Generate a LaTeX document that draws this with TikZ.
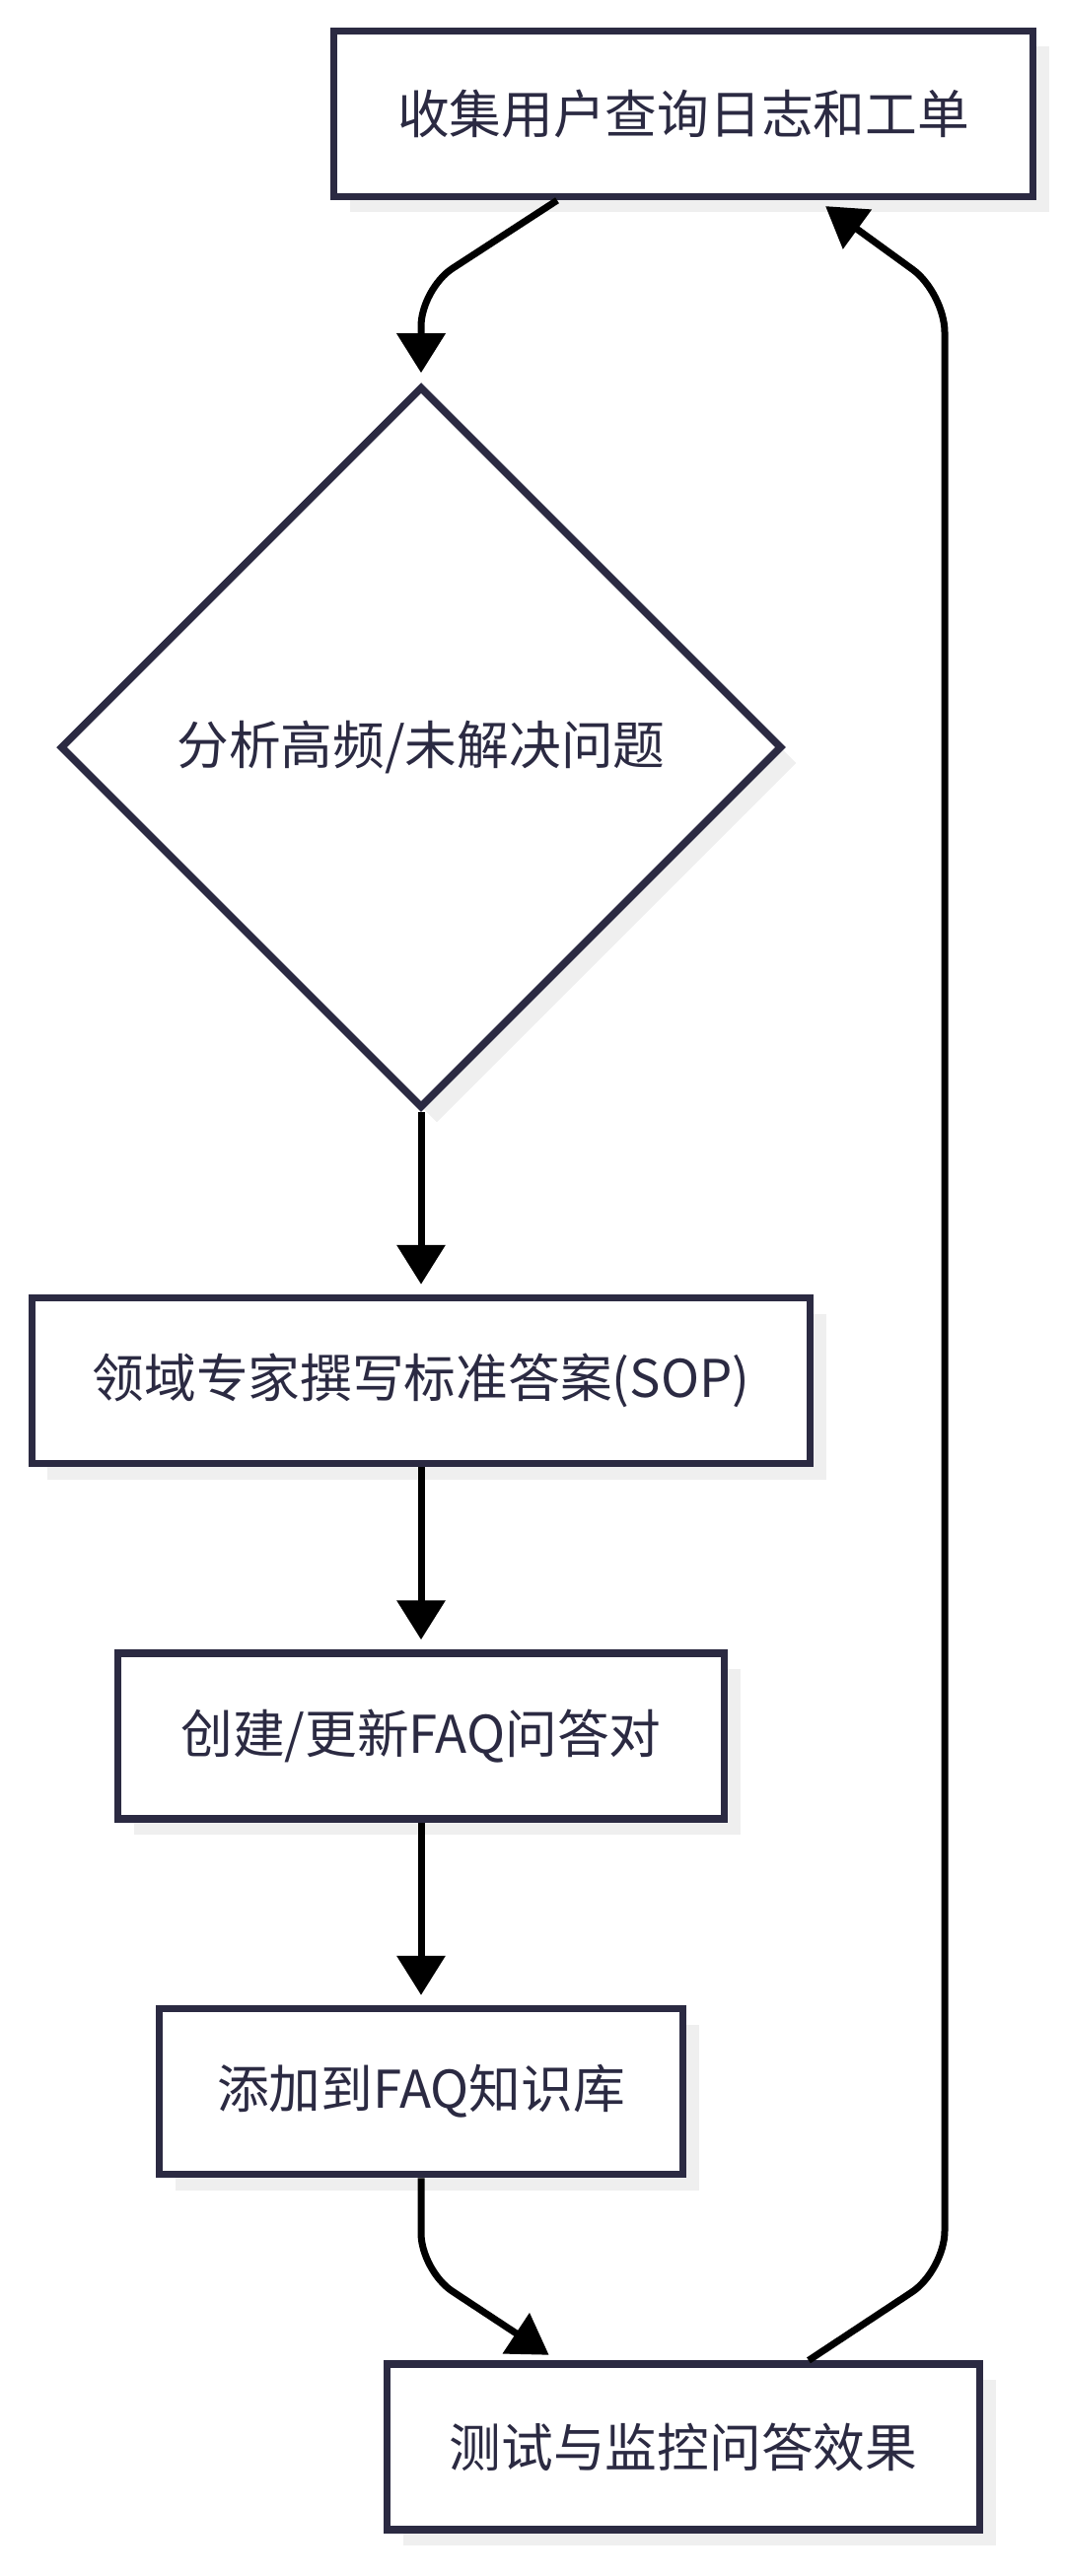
\documentclass[tikz,border=0pt]{standalone}
\usepackage{fontspec}
\usepackage{xcolor}
\usepackage{tikz}
\usetikzlibrary{arrows.meta, positioning, shapes.geometric, shadows}
\newfontfamily\cjk{Noto Sans CJK SC}
\definecolor{inkline}{HTML}{2B2A42}
\definecolor{shadowgray}{HTML}{EFEFEF}

\begin{document}
\begin{tikzpicture}[
        node distance=1.85cm,
        flow/.style={
            draw=inkline,
            line width=0.075cm,
            align=center,
            minimum height=1.68cm,
            fill=white,
            text=inkline,
            font=\cjk\fontsize{15}{18}\selectfont,
            drop shadow={shadow xshift=0.16cm, shadow yshift=-0.16cm, fill=shadowgray, opacity=1}
        },
        decision/.style={
            flow,
            diamond,
            aspect=1,
            minimum width=7.32cm,
            minimum height=7.32cm,
            inner sep=1pt
        },
        arrow/.style={-{Triangle[length=0.4cm, width=0.48cm]}, line width=0.07cm, shorten >=0.1cm}
    ]
        \useasboundingbox (0,0) rectangle (10.8,-26.13);

        \node[flow, minimum width=7.09cm] (collect) at (6.93,-1.155) {收集用户查询日志和工单};
        \node[decision, below=of collect, xshift=-2.66cm] (analyze) {分析高频/未解决问题};
        \node[flow, below=of analyze, minimum width=7.89cm] (writesop) {领域专家撰写标准答案(SOP)};
        \node[flow, below=of writesop, minimum width=6.15cm] (updatefaq) {创建/更新FAQ问答对};
        \node[flow, below=of updatefaq, minimum width=5.31cm] (addkb) {添加到FAQ知识库};
        \node[flow, below=of addkb, xshift=2.66cm, minimum width=6.01cm] (monitor) {测试与监控问答效果};

        \draw[arrow, rounded corners=0.38cm] ([xshift=-1.28cm]collect.south) -- (analyze.north |- 0,-2.93) -- (analyze.north);
        \draw[arrow] (analyze) -- (writesop);
        \draw[arrow] (writesop) -- (updatefaq);
        \draw[arrow] (updatefaq) -- (addkb);
        \draw[arrow, rounded corners=0.38cm] (addkb.south) -- ++(0,-0.94) -- ([xshift=-1.28cm]monitor.north);
        % loop back to the start
        \draw[arrow, rounded corners=0.4cm] ([xshift=1.27cm]monitor.north) -- (9.58,-23.03) -- (9.58,-2.97) -- ([xshift=1.36cm]collect.south);
    \end{tikzpicture}
\end{document}
